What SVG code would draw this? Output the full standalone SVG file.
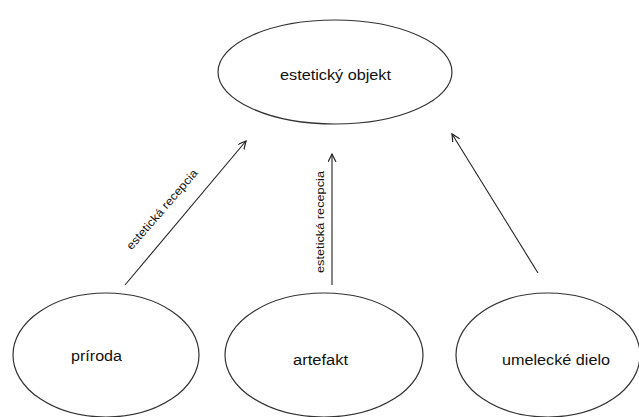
<svg xmlns="http://www.w3.org/2000/svg" width="639" height="417" viewBox="0 0 639 417">
<style>
.n{fill:#fff;stroke:#333;stroke-width:1.2}
.t{font-family:"Liberation Sans",Arial,sans-serif;font-size:14px;fill:#111;text-anchor:middle;dominant-baseline:central}
.l{font-family:"Liberation Sans",Arial,sans-serif;font-size:11.5px;fill:#111;text-anchor:middle}
.c{stroke:#222;stroke-width:1.1;fill:none;marker-end:url(#a)}
</style>
<defs>
<marker id="a" markerWidth="10" markerHeight="10" refX="8" refY="4" orient="auto" markerUnits="userSpaceOnUse">
<path d="M0,0 L8,4 L0,8" fill="none" stroke="#222" stroke-width="1.2"/>
</marker>
</defs>
<rect width="639" height="417" fill="#fff"/>
<g id="connectors">
<line class="c" x1="125" y1="285" x2="246" y2="141"/>
<line class="c" x1="332" y1="285" x2="332" y2="154"/>
<line class="c" x1="538" y1="273" x2="452" y2="134"/>
<text class="l" transform="translate(165,212) rotate(-49)" textLength="102" lengthAdjust="spacingAndGlyphs">estetická recepcia</text>
<text class="l" transform="translate(324,222) rotate(-90)" textLength="102" lengthAdjust="spacingAndGlyphs">estetická recepcia</text>
</g>
<g id="estetickyobjekt">
<ellipse class="n" cx="335" cy="72" rx="117" ry="52"/>
<text class="t" x="335.5" y="75" textLength="111" lengthAdjust="spacingAndGlyphs">estetický objekt</text>
</g>
<g id="priroda">
<ellipse class="n" cx="106" cy="355" rx="93" ry="62"/>
<text class="t" x="96.5" y="356" textLength="51" lengthAdjust="spacingAndGlyphs">príroda</text>
</g>
<g id="artefakt">
<ellipse class="n" cx="324" cy="355" rx="99" ry="62"/>
<text class="t" x="320.5" y="360" textLength="55" lengthAdjust="spacingAndGlyphs">artefakt</text>
</g>
<g id="umeleckedielo">
<ellipse class="n" cx="548" cy="355" rx="92" ry="62"/>
<text class="t" x="556" y="360" textLength="108" lengthAdjust="spacingAndGlyphs">umelecké dielo</text>
</g>
</svg>
